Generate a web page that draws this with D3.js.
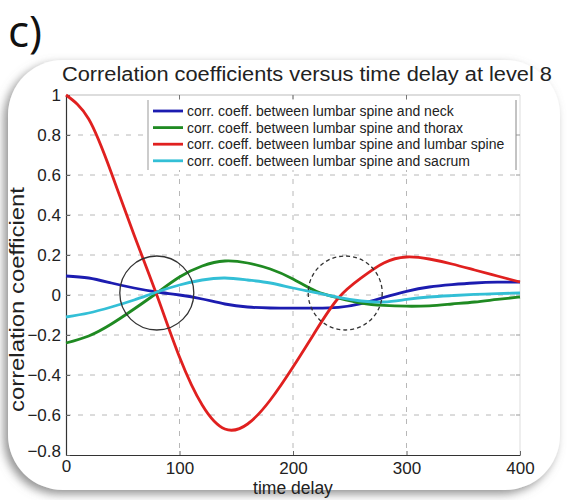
<!DOCTYPE html>
<html>
<head>
<meta charset="utf-8">
<script src="https://cdn.jsdelivr.net/npm/d3@7"></script>
<style>
  html, body { margin: 0; padding: 0; background: #fff; }
  svg { display: block; }
</style>
</head>
<body>
<svg id="chart" width="573" height="500"></svg>
<script>
// Time delay samples
const delays = [0, 20, 40, 60, 80, 100, 120, 140, 160, 180, 200, 220, 240, 260, 280, 300, 320, 340, 360, 380, 400];

// Correlation of the lumbar spine signal with each segment
const neck   = [0.095, 0.085, 0.06, 0.035, 0.015, 0.0, -0.02, -0.045, -0.06, -0.065, -0.066, -0.066, -0.062, -0.043, -0.012, 0.018, 0.04, 0.052, 0.06, 0.064, 0.065];
const thorax = [-0.24, -0.205, -0.145, -0.07, 0.01, 0.09, 0.145, 0.17, 0.16, 0.13, 0.08, 0.02, -0.015, -0.04, -0.052, -0.056, -0.054, -0.045, -0.035, -0.022, -0.01];
const lumbar = [1.0, 0.88, 0.61, 0.30, 0.0, -0.31, -0.55, -0.67, -0.645, -0.525, -0.36, -0.18, -0.015, 0.085, 0.16, 0.19, 0.18, 0.155, 0.125, 0.095, 0.065];
const sacrum = [-0.11, -0.09, -0.06, -0.025, 0.015, 0.05, 0.075, 0.085, 0.075, 0.06, 0.035, 0.012, -0.012, -0.03, -0.035, -0.022, -0.01, -0.003, 0.003, 0.007, 0.01];

const seriesNames = [
  "corr. coeff. between lumbar spine and neck",
  "corr. coeff. between lumbar spine and thorax",
  "corr. coeff. between lumbar spine and lumbar spine",
  "corr. coeff. between lumbar spine and sacrum"
];
const seriesColors = ["#1c1cb0", "#1f8a22", "#e0201f", "#33bfd6"];
const seriesValues = [neck, thorax, lumbar, sacrum];

const xTicks = [0, 100, 200, 300, 400];
const yTicks = [-0.8, -0.6, -0.4, -0.2, 0, 0.2, 0.4, 0.6, 0.8, 1];

// Highlighted crossing regions: [delay, coefficient, dashed?]
const markers = [[80, 0.01, false], [246, 0.01, true]];

const svg = d3.select("#chart");
const defs = svg.append("defs");

// Card with soft shadow
const shadow = defs.append("filter").attr("id", "cardShadow")
  .attr("x", "-10%").attr("y", "-10%").attr("width", "120%").attr("height", "120%");
shadow.append("feDropShadow")
  .attr("dx", -4).attr("dy", 4).attr("stdDeviation", 5)
  .attr("flood-color", "#777").attr("flood-opacity", 0.8);

svg.append("rect")
  .attr("x", 8).attr("y", 60).attr("width", 552).attr("height", 430)
  .attr("rx", 55).attr("ry", 55)
  .attr("fill", "#fff")
  .attr("filter", "url(#cardShadow)");

// Panel label
svg.append("text")
  .attr("x", 8).attr("y", 47)
  .attr("font-family", "Open Sans, sans-serif")
  .attr("font-size", 44)
  .attr("fill", "#111")
  .text("c)");

const plotL = 66, plotR = 520, plotT = 95, plotB = 455;
const x = d3.scaleLinear().domain([0, 400]).range([plotL, plotR]);
const y = d3.scaleLinear().domain([-0.8, 1]).range([plotB, plotT]);

const font = "Liberation Sans, Arial, sans-serif";

// Grid lines
const grid = svg.append("g").attr("stroke", "#9a9a9a").attr("stroke-width", 1)
  .attr("stroke-dasharray", "5,7").attr("opacity", 0.7);
xTicks.slice(1, -1).forEach(t => {
  grid.append("line").attr("x1", x(t)).attr("x2", x(t)).attr("y1", plotT).attr("y2", plotB);
});
yTicks.slice(1, -1).forEach(t => {
  grid.append("line").attr("x1", plotL).attr("x2", plotR).attr("y1", y(t)).attr("y2", y(t));
});

// Box: top and right edges
svg.append("line").attr("x1", plotL).attr("x2", plotR).attr("y1", plotT).attr("y2", plotT)
  .attr("stroke", "#bbb").attr("stroke-width", 1);
svg.append("line").attr("x1", plotR).attr("x2", plotR).attr("y1", plotT).attr("y2", plotB)
  .attr("stroke", "#ddd").attr("stroke-width", 1);

// Axes
const xAxis = d3.axisBottom(x).tickValues(xTicks).tickFormat(d3.format("d"))
  .tickSizeInner(-4).tickSizeOuter(0).tickPadding(5);
const yAxis = d3.axisLeft(y).tickValues(yTicks).tickFormat(d => d === 0 ? "0" : d3.format("")(d))
  .tickSizeInner(-4).tickSizeOuter(0).tickPadding(4);

const gx = svg.append("g").attr("transform", `translate(0,${plotB})`).call(xAxis);
const gy = svg.append("g").attr("transform", `translate(${plotL},0)`).call(yAxis);
[gx, gy].forEach(g => {
  g.selectAll("path").attr("stroke", "#333").attr("stroke-width", 1.2);
  g.selectAll("line").attr("stroke", "#666");
  g.selectAll("text").attr("font-family", font).attr("font-size", 17).attr("fill", "#222");
});
gx.selectAll(".tick text").attr("dy", "0.85em");
gy.selectAll(".tick text").attr("dx", "-1");
gy.selectAll(".tick").filter(d => d === -0.8).select("text").attr("dy", "0.1em");
gx.selectAll(".tick").filter(d => d === 0).select("text").attr("dy", "0.7em");

// Top ticks and right ticks (inward)
xTicks.slice(1, -1).forEach(t => {
  svg.append("line").attr("x1", x(t)).attr("x2", x(t)).attr("y1", plotT).attr("y2", plotT + 4)
    .attr("stroke", "#777");
});
yTicks.slice(1, -1).forEach(t => {
  svg.append("line").attr("x1", plotR).attr("x2", plotR - 4).attr("y1", y(t)).attr("y2", y(t))
    .attr("stroke", "#999");
});

// Title and axis labels
svg.append("text")
  .attr("x", 62).attr("y", 81)
  .attr("font-family", font).attr("font-size", 19.5).attr("fill", "#222")
  .attr("textLength", 490).attr("lengthAdjust", "spacingAndGlyphs")
  .text("Correlation coefficients versus time delay at level 8");

svg.append("text")
  .attr("x", 293).attr("y", 494)
  .attr("text-anchor", "middle")
  .attr("font-family", font).attr("font-size", 17.5).attr("fill", "#222")
  .text("time delay");

svg.append("text")
  .attr("transform", `translate(24,${412}) rotate(-90)`)
  .attr("font-family", font).attr("font-size", 19.5).attr("fill", "#222")
  .attr("textLength", 225).attr("lengthAdjust", "spacingAndGlyphs")
  .text("correlation coefficient");

// Series lines
const line = d3.line()
  .x((d, i) => x(delays[i]))
  .y(d => y(d))
  .curve(d3.curveNatural);

seriesValues.forEach((vals, k) => {
  svg.append("path")
    .datum(vals)
    .attr("d", line)
    .attr("fill", "none")
    .attr("stroke", seriesColors[k])
    .attr("stroke-width", 2.8)
    .attr("stroke-linejoin", "round");
});

// Crossing markers
markers.forEach(([d, v, dashed]) => {
  svg.append("circle")
    .attr("cx", x(d)).attr("cy", y(v)).attr("r", 37)
    .attr("fill", "none")
    .attr("stroke", "#333")
    .attr("stroke-width", 1.3)
    .attr("stroke-dasharray", dashed ? "4,3" : null);
});

// Legend
const legend = svg.append("g");
const lgLeft = 148, lgRight = 516, lgTop = 100, lgBottom = 170;
legend.append("rect")
  .attr("x", lgLeft).attr("y", lgTop).attr("width", lgRight - lgLeft).attr("height", lgBottom - lgTop)
  .attr("fill", "#fff");
legend.append("line").attr("x1", lgLeft).attr("x2", lgLeft).attr("y1", lgTop).attr("y2", lgBottom)
  .attr("stroke", "#999");
legend.append("line").attr("x1", lgRight).attr("x2", lgRight).attr("y1", lgTop).attr("y2", lgBottom)
  .attr("stroke", "#888");
seriesNames.forEach((name, k) => {
  const ly = 111 + k * 16.6;
  legend.append("line")
    .attr("x1", 153).attr("x2", 183).attr("y1", ly).attr("y2", ly)
    .attr("stroke", seriesColors[k]).attr("stroke-width", 2.8);
  legend.append("text")
    .attr("x", 187).attr("y", ly + 5)
    .attr("font-family", font).attr("font-size", 14).attr("fill", "#222")
    .text(name);
});
</script>
</body>
</html>
